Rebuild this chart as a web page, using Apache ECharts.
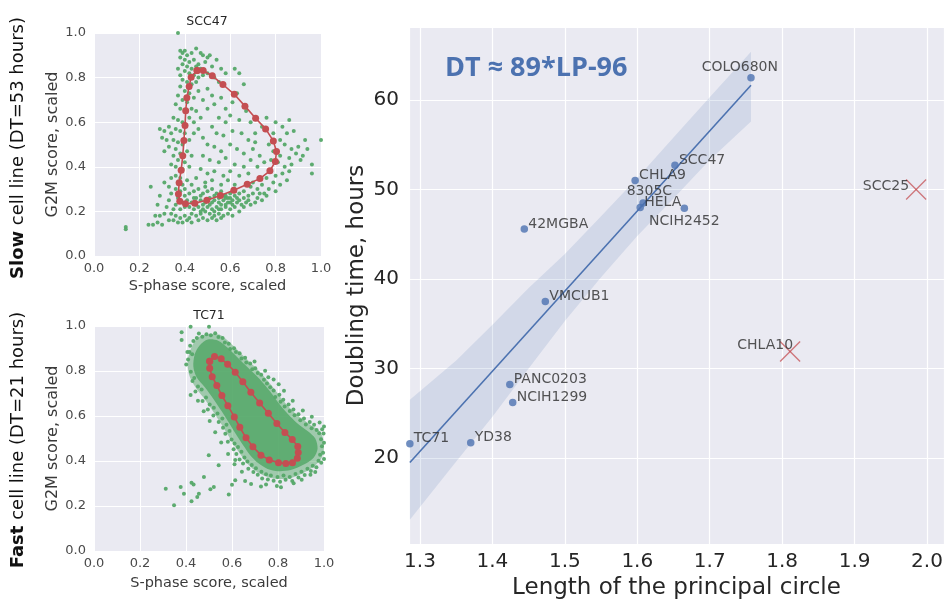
<!DOCTYPE html>
<html>
<head>
<meta charset="utf-8">
<script src="https://cdn.jsdelivr.net/npm/echarts@6/dist/echarts.min.js"></script>
<style>
html,body{margin:0;padding:0;background:#fff;}
#chart{width:944px;height:600px;}
</style>
</head>
<body>
<div id="chart"></div>
<script>
// ---- Doubling time vs length of the principal circle ----
const cellNames    = ['COLO680N','SCC47','CHLA9','8305C','HELA','NCIH2452','42MGBA','VMCUB1','PANC0203','NCIH1299','TC71','YD38'];
const circleLength = [1.757, 1.652, 1.597, 1.608, 1.604, 1.665, 1.444, 1.473, 1.424, 1.428, 1.286, 1.370];
const doublingTime = [62.5, 52.7, 51.0, 48.5, 48.0, 47.9, 45.6, 37.5, 28.2, 26.2, 21.6, 21.7];

// cell lines left out of the fit
const outlierNames  = ['SCC25','CHLA10'];
const outlierLength = [1.985, 1.811];
const outlierTime   = [50.0, 31.9];

// 95% confidence band around the fit
const bandX     = [1.286, 1.35, 1.40, 1.45, 1.50, 1.55, 1.60, 1.65, 1.70, 1.757];
const bandUpper = [26.5, 30.9, 34.9, 39.0, 42.8, 47.0, 51.3, 55.8, 60.3, 65.4];
const bandLower = [13.1, 19.6, 24.6, 30.0, 35.3, 40.2, 44.8, 49.0, 53.3, 57.6];

const fitLabel = 'DT \u2248 89*LP-96';

// ---- SCC47 single cells (S-phase score, G2M score), flat x,y pairs ----
const scc47Cells = [
0.37,1.00, 0.38,0.92, 0.39,0.91, 0.40,0.92, 0.41,0.90, 0.43,0.91, 0.45,0.93, 0.47,0.91, 0.48,0.90, 0.50,0.89,
0.51,0.90, 0.54,0.88, 0.38,0.89, 0.40,0.88, 0.42,0.87, 0.44,0.88, 0.46,0.86, 0.49,0.87, 0.39,0.86, 0.41,0.85,
0.43,0.84, 0.45,0.85, 0.47,0.84, 0.52,0.85, 0.56,0.84, 0.58,0.82, 0.62,0.84, 0.64,0.82, 0.40,0.83, 0.42,0.82,
0.44,0.81, 0.46,0.80, 0.48,0.81, 0.50,0.82, 0.53,0.80, 0.38,0.81, 0.37,0.84,
0.39,0.79, 0.41,0.78, 0.43,0.77, 0.45,0.78, 0.38,0.76, 0.40,0.74, 0.42,0.73, 0.37,0.72, 0.39,0.70, 0.41,0.69,
0.44,0.71, 0.36,0.68, 0.38,0.66, 0.40,0.65, 0.43,0.66, 0.35,0.62, 0.37,0.61, 0.39,0.60, 0.42,0.62, 0.44,0.60,
0.33,0.58, 0.36,0.57, 0.38,0.56, 0.40,0.55, 0.31,0.56, 0.34,0.55, 0.29,0.57, 0.32,0.52, 0.35,0.52, 0.37,0.51,
0.39,0.50, 0.42,0.52, 0.33,0.49, 0.36,0.48, 0.38,0.46, 0.41,0.47, 0.43,0.45, 0.35,0.45, 0.37,0.43, 0.40,0.42,
0.34,0.41, 0.36,0.40, 0.39,0.39, 0.42,0.40, 0.30,0.53, 0.31,0.47, 0.46,0.74, 0.48,0.70, 0.45,0.65, 0.47,0.62,
0.46,0.57, 0.48,0.53, 0.44,0.55, 0.50,0.75, 0.52,0.72, 0.55,0.78,
0.50,0.66, 0.53,0.68, 0.56,0.71, 0.58,0.66, 0.61,0.69, 0.63,0.73, 0.66,0.77, 0.55,0.62, 0.58,0.60, 0.60,0.63,
0.64,0.61, 0.67,0.65, 0.69,0.60, 0.52,0.58, 0.54,0.55, 0.57,0.54, 0.61,0.56, 0.65,0.55, 0.68,0.52, 0.71,0.55,
0.50,0.50, 0.53,0.49, 0.56,0.47, 0.60,0.50, 0.63,0.48, 0.66,0.46, 0.70,0.48, 0.73,0.45, 0.48,0.45, 0.51,0.43,
0.55,0.42, 0.58,0.44, 0.62,0.41, 0.66,0.40, 0.69,0.43, 0.72,0.40, 0.75,0.42, 0.47,0.39, 0.50,0.37, 0.53,0.38,
0.57,0.36, 0.60,0.38, 0.64,0.36, 0.68,0.37, 0.45,0.35, 0.49,0.33, 0.52,0.34, 0.56,0.32, 0.59,0.34, 0.62,0.32,
0.76,0.62, 0.80,0.60, 0.83,0.58, 0.86,0.61, 0.85,0.55, 0.88,0.56, 0.82,0.52, 0.84,0.50, 0.87,0.48, 0.90,0.49,
0.93,0.52, 0.77,0.50, 0.79,0.47, 0.82,0.45, 0.86,0.44, 0.89,0.46, 0.92,0.45, 0.81,0.42, 0.84,0.40, 0.87,0.41,
0.91,0.43, 0.78,0.38, 0.80,0.36, 0.83,0.37, 0.86,0.38, 0.76,0.35, 0.79,0.33, 0.82,0.32, 0.85,0.34, 0.74,0.32,
0.77,0.30, 0.80,0.29, 0.72,0.30, 0.75,0.28, 0.70,0.33, 0.96,0.41, 0.96,0.37, 1.00,0.52, 0.79,0.55, 0.74,0.58,
0.71,0.51, 0.94,0.48, 0.78,0.43,
0.40,0.30, 0.42,0.28, 0.44,0.29, 0.46,0.30, 0.48,0.28, 0.50,0.29, 0.52,0.30, 0.54,0.28, 0.56,0.29, 0.58,0.27,
0.60,0.28, 0.62,0.27, 0.64,0.28, 0.66,0.26, 0.68,0.27, 0.70,0.28, 0.72,0.26, 0.41,0.25, 0.43,0.24, 0.45,0.26,
0.47,0.25, 0.49,0.24, 0.51,0.26, 0.53,0.25, 0.55,0.24, 0.57,0.25, 0.59,0.24, 0.61,0.25, 0.63,0.24, 0.65,0.23,
0.67,0.24, 0.69,0.23, 0.42,0.22, 0.44,0.21, 0.46,0.22, 0.48,0.21, 0.50,0.22, 0.52,0.21, 0.54,0.22, 0.56,0.21,
0.58,0.22, 0.60,0.21, 0.62,0.22, 0.64,0.20, 0.43,0.19, 0.45,0.18, 0.47,0.19, 0.49,0.20, 0.51,0.19, 0.53,0.18,
0.55,0.19, 0.57,0.18, 0.59,0.19, 0.61,0.18, 0.46,0.16, 0.48,0.17, 0.50,0.16, 0.52,0.17, 0.54,0.16, 0.56,0.17,
0.58,0.26, 0.59,0.26, 0.60,0.26, 0.57,0.27, 0.55,0.26, 0.53,0.27, 0.61,0.23, 0.63,0.26, 0.66,0.29, 0.69,0.31,
0.47,0.27, 0.49,0.31, 0.45,0.23, 0.51,0.23, 0.58,0.23, 0.44,0.26, 0.48,0.23, 0.50,0.25, 0.52,0.24, 0.56,0.23,
0.47,0.20, 0.53,0.20, 0.55,0.21, 0.60,0.24, 0.62,0.29, 0.64,0.25, 0.66,0.22, 0.68,0.25, 0.71,0.24, 0.73,0.28,
0.74,0.25, 0.76,0.27,
0.37,0.33, 0.39,0.32, 0.36,0.30, 0.38,0.29, 0.40,0.27, 0.37,0.26, 0.39,0.24, 0.36,0.23, 0.38,0.21, 0.40,0.22,
0.34,0.28, 0.33,0.25, 0.35,0.21, 0.32,0.22, 0.34,0.19, 0.36,0.18, 0.38,0.17, 0.40,0.18, 0.42,0.17, 0.37,0.15,
0.39,0.15, 0.41,0.16, 0.43,0.15, 0.31,0.19, 0.33,0.16, 0.29,0.18, 0.27,0.18, 0.28,0.15, 0.30,0.14, 0.26,0.14,
0.24,0.14, 0.25,0.31, 0.29,0.27, 0.31,0.33, 0.28,0.23, 0.14,0.13, 0.14,0.12, 0.35,0.16, 0.34,0.35, 0.36,0.36,
0.38,0.35, 0.33,0.31, 0.41,0.34, 0.43,0.32
];

// principal circle fitted to SCC47
const scc47Circle = [
0.454,0.832, 0.481,0.832, 0.521,0.808, 0.568,0.769, 0.618,0.725, 0.665,0.672, 0.712,0.618, 0.756,0.570,
0.790,0.516, 0.804,0.469, 0.799,0.424, 0.775,0.382, 0.731,0.347, 0.675,0.322, 0.616,0.295, 0.557,0.271,
0.497,0.250, 0.444,0.237, 0.403,0.234, 0.378,0.246, 0.372,0.278, 0.375,0.329, 0.384,0.385, 0.391,0.449,
0.396,0.518, 0.401,0.585, 0.404,0.651, 0.409,0.710, 0.419,0.760, 0.428,0.802, 0.454,0.832
];

// ---- TC71 single cells: outline of the cloud, its dense core, and the cells around it ----
const tc71Outer = [
0.49,0.962, 0.545,0.962, 0.585,0.932, 0.625,0.892, 0.675,0.842, 0.725,0.792, 0.775,0.732, 0.815,0.678,
0.855,0.632, 0.895,0.594, 0.945,0.558, 0.985,0.528, 1.0,0.47, 0.99,0.415, 0.955,0.375, 0.905,0.345,
0.845,0.322, 0.78,0.322, 0.725,0.342, 0.68,0.375, 0.645,0.418, 0.613,0.465, 0.583,0.515, 0.55,0.57,
0.515,0.625, 0.475,0.683, 0.437,0.735, 0.413,0.785, 0.408,0.85, 0.428,0.915, 0.455,0.95
];
const tc71Core = [
0.495,0.94, 0.54,0.935, 0.58,0.905, 0.62,0.865, 0.67,0.815, 0.72,0.765, 0.765,0.71, 0.805,0.655, 0.845,0.607,
0.885,0.567, 0.93,0.532, 0.962,0.50, 0.972,0.455, 0.955,0.415, 0.91,0.383, 0.855,0.36, 0.80,0.355, 0.755,0.365,
0.715,0.39, 0.68,0.425, 0.65,0.468, 0.62,0.515, 0.59,0.565, 0.556,0.62, 0.52,0.675, 0.482,0.728, 0.445,0.775,
0.432,0.82, 0.438,0.875, 0.46,0.915
];

const tc71Cells = [
0.312,0.277, 0.348,0.203, 0.377,0.285, 0.391,0.255, 0.424,0.303, 0.433,0.296, 0.424,0.221, 0.456,0.255,
0.449,0.240, 0.506,0.274, 0.521,0.285, 0.586,0.251, 0.600,0.295, 0.614,0.315, 0.614,0.404, 0.542,0.381,
0.478,0.329, 0.499,0.426, 0.420,0.693, 0.381,0.972, 0.381,0.938, 0.420,0.997, 0.456,0.967, 0.500,0.997,
0.418,0.912, 0.427,0.874, 0.409,0.851, 0.421,0.797, 0.436,0.769, 0.401,0.829, 0.447,0.947, 0.432,0.933,
0.415,0.884, 0.428,0.756, 0.452,0.731, 0.468,0.718, 0.441,0.709, 0.487,0.682, 0.472,0.667, 0.503,0.651,
0.495,0.629, 0.521,0.637, 0.519,0.602, 0.537,0.611, 0.542,0.573, 0.558,0.589, 0.561,0.548, 0.576,0.561,
0.571,0.521, 0.589,0.533, 0.598,0.496, 0.582,0.486, 0.611,0.478, 0.607,0.452, 0.626,0.462, 0.619,0.431,
0.641,0.441, 0.633,0.407, 0.654,0.416, 0.648,0.389, 0.667,0.398, 0.671,0.366, 0.686,0.382, 0.693,0.351,
0.704,0.368, 0.712,0.339, 0.728,0.352, 0.731,0.322, 0.748,0.341, 0.756,0.318, 0.769,0.336, 0.781,0.312,
0.798,0.329, 0.809,0.308, 0.824,0.336, 0.833,0.317, 0.851,0.329, 0.862,0.311, 0.876,0.342, 0.889,0.327,
0.902,0.352, 0.916,0.338, 0.928,0.366, 0.943,0.356, 0.951,0.379, 0.967,0.372, 0.976,0.401, 0.988,0.392,
0.983,0.428, 0.996,0.437, 0.991,0.466, 1.000,0.481, 0.987,0.497, 0.998,0.522, 0.979,0.523, 0.992,0.541,
0.968,0.538, 0.957,0.561, 0.946,0.546, 0.938,0.573, 0.921,0.562, 0.913,0.589, 0.897,0.581, 0.889,0.608,
0.872,0.603, 0.867,0.629, 0.851,0.622, 0.846,0.651, 0.829,0.642, 0.823,0.672, 0.811,0.663, 0.806,0.694,
0.788,0.684, 0.781,0.713, 0.766,0.728, 0.758,0.772, 0.752,0.745, 0.739,0.761, 0.727,0.783, 0.712,0.791,
0.701,0.812, 0.688,0.808, 0.679,0.833, 0.662,0.838, 0.657,0.859, 0.641,0.856, 0.633,0.879, 0.617,0.884,
0.609,0.901, 0.592,0.898, 0.586,0.921, 0.569,0.927, 0.559,0.947, 0.541,0.951, 0.527,0.968, 0.508,0.959,
0.489,0.963, 0.471,0.952,
0.781,0.762, 0.803,0.741, 0.826,0.712, 0.744,0.801, 0.698,0.842, 0.864,0.668, 0.908,0.624, 0.947,0.597,
0.683,0.298, 0.726,0.287, 0.657,0.311, 0.795,0.289, 0.868,0.301, 0.941,0.339, 0.643,0.352, 0.611,0.386,
0.583,0.431, 0.553,0.482, 0.527,0.528, 0.503,0.578, 0.477,0.621, 0.452,0.668, 0.406,0.884, 0.748,0.296,
0.903,0.317, 0.813,0.283, 0.962,0.351, 1.000,0.409, 1.000,0.553, 0.981,0.571
];

// principal circle fitted to TC71
const tc71Circle = [
0.503,0.843, 0.524,0.865, 0.553,0.854, 0.581,0.830, 0.614,0.795, 0.647,0.752, 0.682,0.706, 0.720,0.658,
0.758,0.612, 0.795,0.567, 0.830,0.527, 0.862,0.496, 0.886,0.465, 0.888,0.438, 0.884,0.412, 0.863,0.392,
0.834,0.389, 0.802,0.392, 0.762,0.405, 0.726,0.426, 0.691,0.463, 0.661,0.503, 0.634,0.550, 0.610,0.596,
0.582,0.646, 0.556,0.691, 0.534,0.736, 0.514,0.775, 0.503,0.812, 0.503,0.843
];

// ---- helpers ----
function pairs(flat) {
  const out = [];
  for (let i = 0; i < flat.length; i += 2) out.push([flat[i], flat[i + 1]]);
  return out;
}

// least-squares line through the cell lines kept in the fit
function linearFit(xs, ys) {
  const n = xs.length;
  const mx = xs.reduce((a, b) => a + b, 0) / n;
  const my = ys.reduce((a, b) => a + b, 0) / n;
  let sxy = 0, sxx = 0;
  for (let i = 0; i < n; i++) { sxy += (xs[i] - mx) * (ys[i] - my); sxx += (xs[i] - mx) ** 2; }
  const slope = sxy / sxx;
  return { slope, intercept: my - slope * mx };
}

const fit = linearFit(circleLength, doublingTime);
const xLo = Math.min(...circleLength), xHi = Math.max(...circleLength);
const fitLine = [[xLo, fit.intercept + fit.slope * xLo], [xHi, fit.intercept + fit.slope * xHi]];

// ---- styling ----
const BG = '#EAEAF2';
const BLUE = '#4C72B0';
const GREEN = '#55A868';
const RED = '#C44E52';
const FONT = 'DejaVu Sans';

// where each name sits relative to its marker: [dx, dy, align]
const labelPlacement = {
  'COLO680N': [27, -10, 'right'],
  '8305C': [29, -12, 'right'],
  'NCIH2452': [0, 13, 'center'],
  'SCC25': [-7, -3, 'right'],
  'CHLA10': [3, -6, 'right']
};
function labelFor(name) {
  const p = labelPlacement[name] || [4, -5, 'left'];
  return {
    show: true, formatter: name, position: 'inside', offset: [p[0], p[1]], align: p[2],
    verticalAlign: 'middle', color: '#2a2a2a', fontSize: 14, fontFamily: FONT
  };
}

function unitAxis(gridIndex, name, gap, isX) {
  return {
    gridIndex, type: 'value', min: 0, max: 1, interval: 0.2,
    axisLine: { show: false }, axisTick: { show: false },
    splitLine: { show: true, lineStyle: { color: '#fff', width: 1 } },
    axisLabel: { formatter: v => v.toFixed(1), color: '#4a4a4a', fontSize: 13, fontFamily: FONT, margin: isX ? 6 : 8 },
    name, nameLocation: 'middle', nameGap: gap, nameMoveOverlap: false,
    nameTextStyle: { color: '#3a3a3a', fontSize: isX ? 14.5 : 16, fontFamily: FONT }
  };
}

function cloud(flat, opacity) {
  return (params, api) => ({
    type: 'polygon',
    shape: { points: pairs(flat).map(p => api.coord(p)), smooth: 0.3 },
    style: { fill: GREEN, opacity }
  });
}

const chart = echarts.init(document.getElementById('chart'), null, { renderer: 'canvas' });

const gridBase = { show: true, backgroundColor: BG, borderWidth: 0, containLabel: false, outerBoundsMode: 'none' };

const option = {
  backgroundColor: '#fff',
  animation: false,
  grid: [
    Object.assign({ left: 94, top: 33, width: 227, height: 223 }, gridBase),
    Object.assign({ left: 94, top: 326, width: 230, height: 225 }, gridBase),
    Object.assign({ left: 409, top: 27, width: 535, height: 517 }, gridBase)
  ],
  xAxis: [
    unitAxis(0, 'S-phase score, scaled', 23, true),
    unitAxis(1, 'S-phase score, scaled', 25, true),
    {
      gridIndex: 2, type: 'value', min: 1.2848, max: 2.0235, splitNumber: 7,
      axisLine: { show: false }, axisTick: { show: false },
      splitLine: { show: true, lineStyle: { color: '#fff', width: 1.2 } },
      axisLabel: { formatter: v => v.toFixed(1), color: '#262626', fontSize: 20, fontFamily: FONT, margin: 8,
                   showMinLabel: false, showMaxLabel: false },
      name: 'Length of the principal circle', nameLocation: 'middle', nameGap: 33, nameMoveOverlap: false,
      nameTextStyle: { color: '#262626', fontSize: 23, fontFamily: FONT }
    }
  ],
  yAxis: [
    unitAxis(0, 'G2M score, scaled', 33, false),
    unitAxis(1, 'G2M score, scaled', 33, false),
    {
      gridIndex: 2, type: 'value', min: 10.39, max: 68.16, splitNumber: 6,
      axisLine: { show: false }, axisTick: { show: false },
      splitLine: { show: true, lineStyle: { color: '#fff', width: 1.2 } },
      axisLabel: { color: '#262626', fontSize: 20, fontFamily: FONT, margin: 10,
                   showMinLabel: false, showMaxLabel: false },
      name: 'Doubling time, hours', nameLocation: 'middle', nameGap: 40, nameMoveOverlap: false,
      nameTextStyle: { color: '#262626', fontSize: 23, fontFamily: FONT }
    }
  ],
  graphic: [
    { type: 'text', x: 207, y: 22, style: { text: 'SCC47', font: '12.5px "DejaVu Sans"', fill: '#262626', align: 'center', verticalAlign: 'middle' } },
    { type: 'text', x: 209, y: 316, style: { text: 'TC71', font: '12.5px "DejaVu Sans"', fill: '#262626', align: 'center', verticalAlign: 'middle' } },
    { type: 'text', x: 18, y: 148, rotation: Math.PI / 2,
      style: { text: '{b|Slow} cell line (DT=53 hours)', font: '18px "DejaVu Sans"', fill: '#111', align: 'center', verticalAlign: 'middle',
               rich: { b: { fontWeight: 'bold', fontSize: 18, fontFamily: FONT, fill: '#111' } } } },
    { type: 'text', x: 18, y: 440, rotation: Math.PI / 2,
      style: { text: '{b|Fast} cell line (DT=21 hours)', font: '18px "DejaVu Sans"', fill: '#111', align: 'center', verticalAlign: 'middle',
               rich: { b: { fontWeight: 'bold', fontSize: 18, fontFamily: FONT, fill: '#111' } } } },
    { type: 'text', x: 445, y: 68, z: 10,
      style: { text: fitLabel, font: 'bold 27px "Open Sans"', fill: BLUE, align: 'left', verticalAlign: 'middle' } }
  ],
  series: [
    // SCC47 panel
    { type: 'scatter', xAxisIndex: 0, yAxisIndex: 0, data: pairs(scc47Cells), symbolSize: 4,
      itemStyle: { color: GREEN, opacity: 0.95 }, silent: true },
    { type: 'line', xAxisIndex: 0, yAxisIndex: 0, data: pairs(scc47Circle), symbol: 'circle', symbolSize: 7, showSymbol: true,
      lineStyle: { color: RED, width: 1.6 }, itemStyle: { color: RED, borderWidth: 0 }, silent: true, z: 5 },

    // TC71 panel: cloud outline, dense core, then individual cells
    { type: 'custom', xAxisIndex: 1, yAxisIndex: 1, data: [0], silent: true, z: 1, renderItem: cloud(tc71Outer, 0.5) },
    { type: 'custom', xAxisIndex: 1, yAxisIndex: 1, data: [0], silent: true, z: 1, renderItem: cloud(tc71Core, 0.85) },
    { type: 'scatter', xAxisIndex: 1, yAxisIndex: 1, data: pairs(tc71Cells), symbolSize: 4,
      itemStyle: { color: GREEN, opacity: 0.95 }, silent: true, z: 2 },
    { type: 'line', xAxisIndex: 1, yAxisIndex: 1, data: pairs(tc71Circle), symbol: 'circle', symbolSize: 7, showSymbol: true,
      lineStyle: { color: RED, width: 1.6 }, itemStyle: { color: RED, borderWidth: 0 }, silent: true, z: 5 },

    // doubling time panel: confidence band
    { type: 'custom', xAxisIndex: 2, yAxisIndex: 2, data: [0], silent: true, z: 1,
      renderItem: (params, api) => {
        const pts = bandX.map((x, i) => api.coord([x, bandUpper[i]]));
        for (let i = bandX.length - 1; i >= 0; i--) pts.push(api.coord([bandX[i], bandLower[i]]));
        return { type: 'polygon', shape: { points: pts }, style: { fill: BLUE, opacity: 0.15 } };
      } },
    // regression line
    { type: 'line', xAxisIndex: 2, yAxisIndex: 2, data: fitLine, showSymbol: false, symbol: 'none',
      lineStyle: { color: BLUE, width: 1.6 }, silent: true, z: 2 },
    // cell lines
    { type: 'scatter', xAxisIndex: 2, yAxisIndex: 2, symbolSize: 7.5, clip: false, silent: true, z: 3,
      itemStyle: { color: BLUE },
      data: cellNames.map((n, i) => ({ name: n, value: [circleLength[i], doublingTime[i]], label: labelFor(n) })) },
    // excluded cell lines, drawn as crosses
    { type: 'custom', xAxisIndex: 2, yAxisIndex: 2, silent: true, z: 3,
      data: outlierNames.map((n, i) => ({ name: n, value: [outlierLength[i], outlierTime[i]] })),
      renderItem: (params, api) => {
        const c = api.coord([api.value(0), api.value(1)]);
        const h = 10;
        const st = { stroke: RED, lineWidth: 1.3, opacity: 0.75 };
        return { type: 'group', children: [
          { type: 'line', shape: { x1: c[0] - h, y1: c[1] - h, x2: c[0] + h, y2: c[1] + h }, style: st },
          { type: 'line', shape: { x1: c[0] - h, y1: c[1] + h, x2: c[0] + h, y2: c[1] - h }, style: st }
        ] };
      } },
    // names of the excluded cell lines
    { type: 'scatter', xAxisIndex: 2, yAxisIndex: 2, symbolSize: 1, silent: true, z: 4,
      itemStyle: { color: 'rgba(0,0,0,0)' },
      data: outlierNames.map((n, i) => ({ name: n, value: [outlierLength[i], outlierTime[i]], label: labelFor(n) })) }
  ]
};

chart.setOption(option);
</script>
</body>
</html>
